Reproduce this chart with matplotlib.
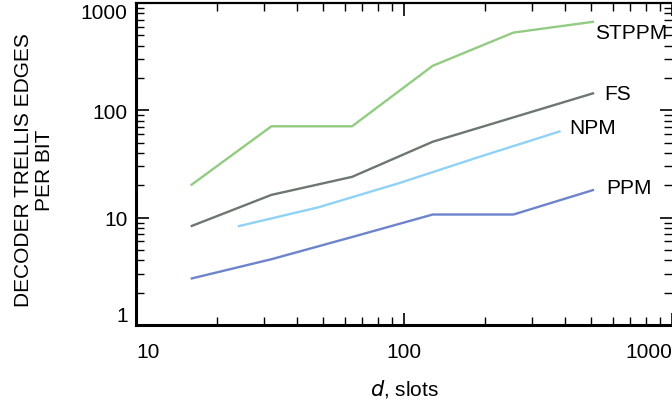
import matplotlib.pyplot as plt

plt.rcParams['font.family'] = ['Liberation Sans', 'DejaVu Sans']

# slots d and decoder trellis edges per bit
d_stppm = [16, 32, 64, 128, 256, 512]
stppm = [20, 71, 71, 260, 530, 670]

d_fs = [16, 32, 64, 128, 256, 512]
fs = [8.3, 16.3, 24, 51, 86, 145]

d_npm = [24, 48, 96, 192, 384]
npm = [8.3, 12.5, 21, 37, 64]

d_ppm = [16, 32, 64, 128, 256, 512]
ppm = [2.7, 4.1, 6.6, 10.7, 10.7, 18.2]

series = [
    ("STPPM", d_stppm, stppm, "#93cb82", (1, -11)),
    ("FS", d_fs, fs, "#6c786f", (10, 0)),
    ("NPM", d_npm, npm, "#90d2f6", (9, 4)),
    ("PPM", d_ppm, ppm, "#6d84cd", (12, 2)),
]

fig = plt.figure(figsize=(6.72, 4.06), dpi=100)
ax = fig.add_axes([136 / 672, 80 / 406, 536 / 672, 322 / 406])

for name, xs, ys, col, off in series:
    ax.plot(xs, ys, color=col, lw=1.7, solid_capstyle='butt')
    ax.annotate(name, (xs[-1], ys[-1]), xytext=off, textcoords='offset pixels',
                ha='left', va='center', fontsize=15, color='black')

ax.set_xscale('log')
ax.set_yscale('log')
ax.set_xlim(10, 1000)
ax.set_ylim(1, 1000)

ax.set_xticks([10, 100, 1000])
ax.set_xticklabels(['10', '100', '1000'])
ax.set_yticks([1, 10, 100, 1000])
ax.set_yticklabels(['1', '10', '100', '1000'])

ax.tick_params(which='major', direction='in', length=9, width=1.2,
               top=True, right=True, labelsize=15)
ax.tick_params(which='minor', direction='in', length=5.5, width=1.0,
               top=True, right=True)
ax.tick_params(axis='x', which='major', pad=12)
ax.tick_params(axis='y', which='major', pad=6)

xl = ax.get_xticklabels()
xl[0].set_ha('left')
xl[-1].set_ha('right')
yl = ax.get_yticklabels()
yl[0].set_va('bottom')
yl[-1].set_va('top')

ax.spines['left'].set_linewidth(2.2)
ax.spines['bottom'].set_linewidth(2.2)
ax.spines['top'].set_linewidth(1.6)
ax.spines['right'].set_visible(False)

ax.set_xlabel(r'$\it{d}$, slots', fontsize=15, labelpad=12)
ax.set_ylabel('DECODER TRELLIS EDGES\nPER BIT', fontsize=15,
              linespacing=1.1, va='center')
ax.yaxis.set_label_coords(-0.19, 0.485)

fig.savefig('out.png', dpi=100)
